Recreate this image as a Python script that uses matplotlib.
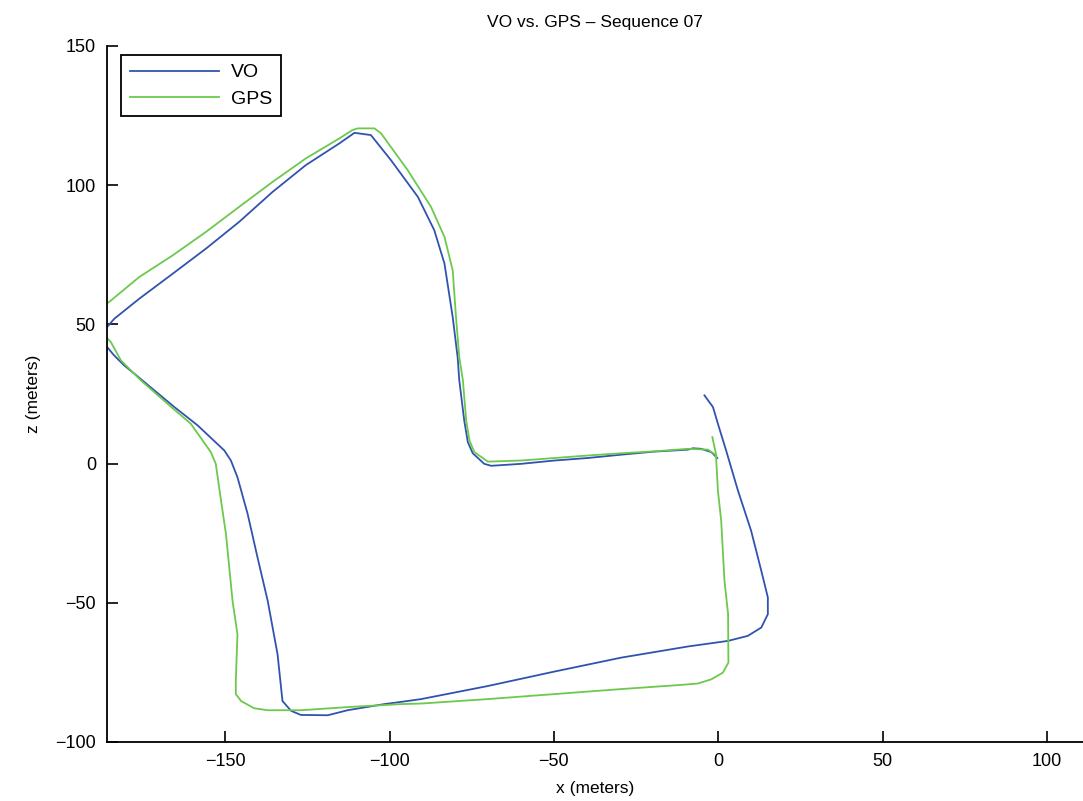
import matplotlib
matplotlib.use('Agg')
import matplotlib.pyplot as plt

# ---- trajectories (meters)
vo_x = [-0.3, -2.1, -5.2, -7.7, -9.2, -19.4, -29.5, -39.7, -49.8, -60.0, -69.1, -71.2, -74.7,
        -76.2, -77.3, -78.3, -78.8, -79.3, -80.8, -83.3, -86.4, -91.4, -99.6, -105.7,
        -110.7, -115.3, -125.5, -135.6, -145.8, -155.9, -166.0, -176.2, -183.8, -187.5,
        -187.5, -183.8, -180.8, -177.7, -171.6, -165.5, -158.4,
        -150.3, -148.3, -146.3, -143.2, -140.2, -137.1, -134.1, -132.6, -130.0, -127.0,
        -118.8, -112.8, -101.6, -96.5, -90.4, -70.1, -49.8, -29.5, -9.2, 2.95, 9.0, 13.1,
        15.1, 15.1, 13.1, 10.0, 6.0, 2.4, -0.1, -1.6, -4.2]
vo_z = [2.0, 4.1, 5.3, 5.5, 5.0, 4.3, 3.2, 2.0, 1.1, -0.1, -0.8, -0.1, 3.7,
        7.7, 15.5, 25.1, 29.9, 38.2, 52.6, 71.8, 83.8, 95.8, 109.0, 118.0,
        118.8, 115.0, 107.2, 97.6, 86.8, 77.2, 68.2, 59.2, 52.0, 47.0,
        44.0, 38.8, 35.3, 32.3, 26.3, 20.3, 13.7,
        4.7, 1.1, -4.9, -18.1, -33.7, -49.3, -68.5, -85.3, -88.8, -90.3,
        -90.4, -88.6, -86.4, -85.6, -84.6, -79.9, -74.7, -69.7, -65.7, -63.7, -61.9, -58.9,
        -54.1, -48.1, -38.5, -24.1, -9.7, 4.7, 14.3, 20.3, 24.5]

gps_x = [-1.8, -0.8, -0.6, -0.1, 0.9, 1.9, 3.0, 3.1, 1.4, -2.1, -6.2, -11.3, -29.5, -49.8,
         -70.1, -90.4, -96.5, -111.8, -127.0, -137.1, -141.2, -145.2, -146.8, -146.8,
         -146.3, -147.8, -148.8, -149.8, -151.3, -152.9, -154.4, -156.9, -160.5, -167.6,
         -175.7, -181.8, -184.8, -189.0, -189.0, -185.4, -176.2, -166.0, -155.9, -145.8,
         -135.6, -125.5, -115.3, -111.3, -109.7, -104.6, -102.6, -94.5, -87.4, -83.3,
         -80.8, -79.8, -78.8, -77.7, -76.7, -75.7, -74.2, -70.1, -60.0, -49.8, -39.7, -29.5,
         -19.4, -9.2, -3.1, -0.6]
gps_z = [9.5, 4.1, 1.1, -9.7, -20.5, -42.1, -54.1, -71.5, -75.1, -77.5, -79.0, -79.5, -81.0, -82.8,
         -84.6, -86.2, -86.4, -87.4, -88.6, -88.6, -87.9, -85.3, -82.8, -78.1,
         -61.3, -49.3, -37.3, -25.3, -13.3, -0.1, 4.1, 8.3, 14.3, 21.5,
         29.9, 37.1, 43.6, 49.0, 56.0, 58.0, 67.0, 74.8, 83.2, 92.2,
         101.2, 109.6, 116.8, 119.8, 120.4, 120.4, 118.6, 105.4, 92.2, 81.4,
         69.4, 52.6, 38.2, 29.9, 15.5, 8.3, 4.1, 0.7, 1.1, 2.0, 2.9, 3.7,
         4.4, 5.3, 5.0, 2.9]

x_ticks = [-150, -100, -50, 0, 50, 100]
z_ticks = [-100, -50, 0, 50, 100, 150]

plt.rcParams['font.family'] = ['Liberation Sans', 'DejaVu Sans']

fig = plt.figure(figsize=(10.83, 8.01), dpi=100)
ax = fig.add_axes([0.0988, 0.0737, 0.9012, 0.8689])

ax.plot(vo_x, vo_z, color='#3153b0', lw=1.3, label='VO')
ax.plot(gps_x, gps_z, color='#6cc94c', lw=1.3, label='GPS')

ax.set_xlim(-186, 111)
ax.set_ylim(-100, 150)
ax.set_xticks(x_ticks)
ax.set_yticks(z_ticks)
ax.tick_params(direction='in', length=8, width=1.2, labelsize=13, pad=8)
for s in ['top', 'right']:
    ax.spines[s].set_visible(False)
for s in ['left', 'bottom']:
    ax.spines[s].set_linewidth(1.3)

ax.set_title('VO vs. GPS \u2013 Sequence 07', fontsize=12.5, pad=14)
ax.set_xlabel('x (meters)', fontsize=12.5, labelpad=8)
ax.set_ylabel('z (meters)', fontsize=12.5, labelpad=10)

leg = ax.legend(loc='upper left', bbox_to_anchor=(0.0143, 0.987), borderaxespad=0,
                fontsize=14, fancybox=False, framealpha=1, edgecolor='black',
                handlelength=4.6, handletextpad=0.6, borderpad=0.45, labelspacing=0.45)
leg.get_frame().set_linewidth(1.3)

fig.savefig('out.png', dpi=100)
